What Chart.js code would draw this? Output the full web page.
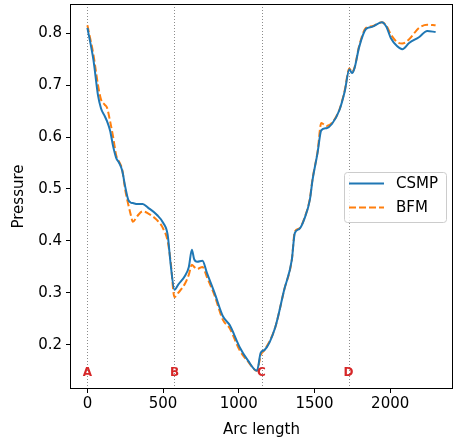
<!DOCTYPE html>
<html>
<head>
<meta charset="utf-8">
<script src="https://cdn.jsdelivr.net/npm/chart.js@4/dist/chart.umd.min.js"></script>
<style>
  html, body { margin: 0; padding: 0; background: #fff; }
  #wrap { width: 455px; height: 439px; }
</style>
</head>
<body>
<div id="wrap"><canvas id="pressureChart" width="455" height="439"></canvas></div>
<script>
// values
const arcLength = [0, 40, 70, 90, 115, 130, 150, 170, 190, 210, 230, 250, 270, 285, 300, 330, 365, 400, 460, 500,
    530, 550, 575, 600, 645, 670, 690, 705, 725, 760, 790, 840, 895, 940, 1005, 1060, 1120, 1145, 1170, 1240,
    1300, 1350, 1370, 1400, 1435, 1470, 1487, 1520, 1545, 1580, 1615, 1665, 1700, 1730, 1748, 1765, 1795, 1840, 1880, 1945,
    1975, 2005, 2045, 2080, 2125, 2190, 2245, 2300];
const csmpPressure = [0.810, 0.748, 0.680, 0.655, 0.640, 0.630, 0.612, 0.582, 0.560, 0.550, 0.535, 0.504, 0.479, 0.474, 0.473, 0.471, 0.471, 0.464, 0.450, 0.435,
    0.412, 0.355, 0.306, 0.316, 0.333, 0.350, 0.383, 0.365, 0.360, 0.362, 0.338, 0.300, 0.255, 0.238, 0.196, 0.170, 0.150, 0.185, 0.190, 0.233,
    0.306, 0.363, 0.415, 0.423, 0.444, 0.480, 0.517, 0.569, 0.613, 0.617, 0.625, 0.652, 0.688, 0.730, 0.723, 0.733, 0.773, 0.808, 0.812, 0.821,
    0.812, 0.790, 0.775, 0.769, 0.781, 0.792, 0.804, 0.802];
const bfmPressure = [0.815, 0.758, 0.700, 0.672, 0.662, 0.656, 0.630, 0.600, 0.565, 0.552, 0.537, 0.498, 0.470, 0.452, 0.437, 0.448, 0.457, 0.453, 0.440, 0.424,
    0.400, 0.360, 0.292, 0.300, 0.318, 0.335, 0.354, 0.350, 0.346, 0.350, 0.330, 0.295, 0.248, 0.232, 0.190, 0.168, 0.150, 0.180, 0.190, 0.233,
    0.306, 0.363, 0.418, 0.424, 0.445, 0.482, 0.519, 0.571, 0.627, 0.621, 0.627, 0.653, 0.690, 0.732, 0.725, 0.734, 0.775, 0.810, 0.813, 0.821,
    0.814, 0.797, 0.783, 0.780, 0.788, 0.810, 0.816, 0.815];
const markerArc = [0, 575, 1150, 1725];
const markerNames = ['A', 'B', 'C', 'D'];
const xTicks = [0, 500, 1000, 1500, 2000];
const yTicks = [0.2, 0.3, 0.4, 0.5, 0.6, 0.7, 0.8];

const FONT = "'DejaVu Sans', sans-serif";

function pairs(ys) {
    return arcLength.map((x, i) => ({ x: x, y: ys[i] }));
}

// dotted section lines, A-D labels, frame and legend
const decorations = {
    id: 'decorations',
    beforeDatasetsDraw(chart) {
        const { ctx, chartArea, scales } = chart;
        ctx.save();
        ctx.strokeStyle = '#8c8c8c';
        ctx.lineWidth = 1;
        ctx.setLineDash([1, 2]);
        markerArc.forEach(v => {
            const px = Math.round(scales.x.getPixelForValue(v)) + 0.5;
            ctx.beginPath();
            ctx.moveTo(px, chartArea.top);
            ctx.lineTo(px, chartArea.bottom);
            ctx.stroke();
        });
        ctx.restore();
    },
    afterDatasetsDraw(chart) {
        const { ctx, chartArea, scales } = chart;
        ctx.save();
        ctx.fillStyle = '#d62728';
        ctx.font = 'bold 12px ' + FONT;
        ctx.textAlign = 'center';
        ctx.textBaseline = 'middle';
        markerArc.forEach((v, i) => {
            ctx.fillText(markerNames[i], scales.x.getPixelForValue(v), scales.y.getPixelForValue(0.146));
        });

        // frame
        ctx.strokeStyle = '#000';
        ctx.lineWidth = 1;
        ctx.strokeRect(chartArea.left + 0.5, chartArea.top + 0.5,
            chartArea.right - chartArea.left - 1, chartArea.bottom - chartArea.top - 1);

        // legend
        const bx = 344.5, by = 172.5, bw = 102, bh = 50;
        ctx.fillStyle = 'rgba(255,255,255,0.8)';
        ctx.strokeStyle = '#cccccc';
        ctx.beginPath();
        ctx.roundRect(bx, by, bw, bh, 3);
        ctx.fill();
        ctx.stroke();
        ctx.font = '15px ' + FONT;
        ctx.textAlign = 'left';
        ctx.textBaseline = 'middle';
        chart.data.datasets.forEach((ds, i) => {
            const ly = 183.5 + i * 24;
            ctx.strokeStyle = ds.borderColor;
            ctx.lineWidth = 2;
            ctx.setLineDash(ds.borderDash || []);
            ctx.beginPath();
            ctx.moveTo(349, ly);
            ctx.lineTo(384, ly);
            ctx.stroke();
            ctx.setLineDash([]);
            ctx.fillStyle = '#000';
            ctx.fillText(ds.label, 396, ly + 1);
        });
        ctx.restore();
    }
};

const ctx = document.getElementById('pressureChart').getContext('2d');
new Chart(ctx, {
    type: 'line',
    data: {
        datasets: [{
            label: 'CSMP',
            data: pairs(csmpPressure),
            borderColor: '#1f77b4',
            borderWidth: 2,
            pointRadius: 0,
            cubicInterpolationMode: 'monotone',
        }, {
            label: 'BFM',
            data: pairs(bfmPressure),
            borderColor: '#ff7f0e',
            borderWidth: 2,
            borderDash: [7, 3],
            pointRadius: 0,
            cubicInterpolationMode: 'monotone',
        }]
    },
    plugins: [decorations],
    options: {
        responsive: false,
        animation: false,
        layout: { padding: { top: 4, right: 2, left: 0, bottom: 0 } },
        plugins: {
            legend: { display: false },
            tooltip: { enabled: false },
        },
        scales: {
            x: {
                type: 'linear',
                min: -115,
                max: 2415,
                afterBuildTicks: s => { s.ticks = xTicks.map(v => ({ value: v })); },
                afterFit: s => { s.height = 50; s.paddingRight = 0; s.paddingLeft = 0; },
                grid: { drawOnChartArea: false, drawTicks: true, tickLength: 4, tickColor: '#000' },
                border: { display: false },
                ticks: { color: '#000', font: { family: FONT, size: 15 }, padding: 2, maxRotation: 0, callback: v => String(v) },
                title: { display: true, text: 'Arc length', color: '#000', font: { family: FONT, size: 15 }, padding: { top: 0, bottom: 0 } },
            },
            y: {
                min: 0.115,
                max: 0.856,
                afterBuildTicks: s => { s.ticks = yTicks.map(v => ({ value: v })); },
                afterFit: s => { s.width = 70; s.paddingTop = 0; s.paddingBottom = 0; },
                grid: { drawOnChartArea: false, drawTicks: true, tickLength: 4, tickColor: '#000' },
                border: { display: false },
                ticks: { color: '#000', font: { family: FONT, size: 15 }, padding: 4, callback: v => v.toFixed(1) },
                title: { display: true, text: 'Pressure', color: '#000', font: { family: FONT, size: 15 }, padding: { top: 10, bottom: 4 } },
            }
        }
    }
});
</script>
</body>
</html>
